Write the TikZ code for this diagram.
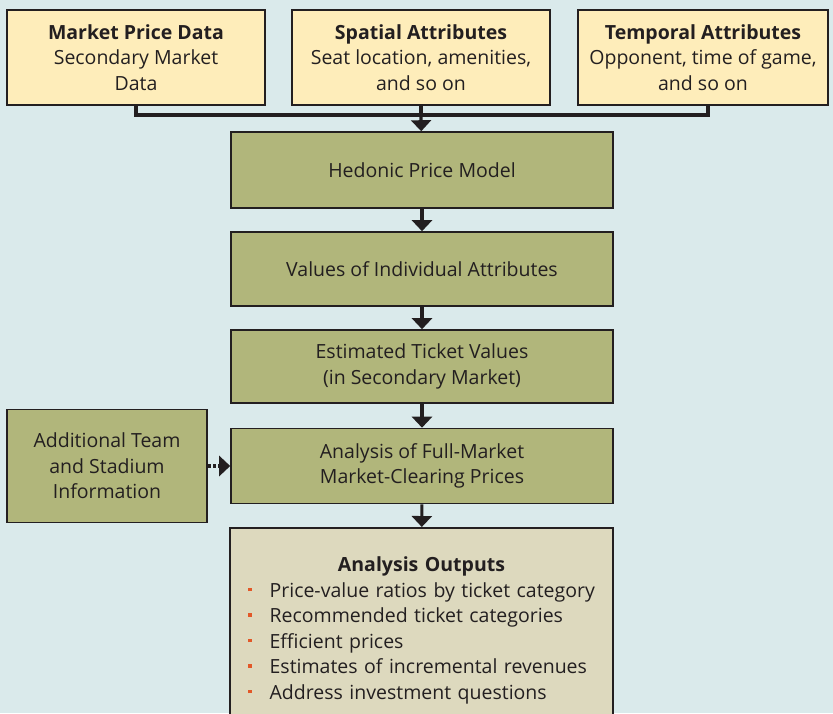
\documentclass[tikz,border=0pt]{standalone}
\usepackage{fontspec}
\setmainfont{Open Sans}
\usepackage{tikz}
\usetikzlibrary{arrows.meta}
\definecolor{cback}{RGB}{218,234,235}
\definecolor{cyellow}{RGB}{254,237,186}
\definecolor{colive}{RGB}{177,182,123}
\definecolor{ctan}{RGB}{221,217,190}
\definecolor{cbullet}{RGB}{226,88,40}
\definecolor{cline}{RGB}{35,31,32}
\newcommand{\bul}{\textcolor{cbullet}{\rule[6pt]{3.5pt}{3.5pt}}}

\begin{document}
\begin{tikzpicture}[x=1pt,y=-1pt,->,>={Triangle[width=20pt,length=11pt]},
  line width=3.2pt,draw=cline,
  box/.style={draw=cline,line width=1.6pt,inner sep=0pt,align=center,
    font=\fontsize{19.5}{25.5}\selectfont,text=cline},
  top node/.style={box,fill=cyellow,minimum height=95pt},
  main node/.style={box,fill=colive,minimum width=382pt},
  others node/.style={box,fill=colive,minimum width=200pt,minimum height=113pt},
  out node/.style={box,fill=ctan,anchor=north,text width=383pt,inner ysep=29pt}]
  \clip (0,0) rectangle (833,713);
  \fill[cback] (0,0) rectangle (833,713);

  \node[top node,minimum width=258pt] (1) at (136,57.5)
    {\bfseries Market Price Data\\Secondary Market\\Data};
  \node[top node,minimum width=258pt] (2) at (421,57.5)
    {\bfseries Spatial Attributes\\Seat location, amenities,\\and so on};
  \node[top node,minimum width=250pt] (3) at (703,57.5)
    {\bfseries Temporal Attributes\\Opponent, time of game,\\and so on};
  \coordinate (j) at (421,115);

  \node[main node,minimum height=76pt] (4) at (422,170) {Hedonic Price Model};
  \node[main node,minimum height=74pt] (5) at (422,269) {Values of Individual Attributes};
  \node[main node,minimum height=73pt] (6) at (422,366.5)
    {Estimated Ticket Values\\(in Secondary Market)};
  \node[main node,minimum height=75pt] (7) at (422,466)
    {Analysis of Full-Market\\Market-Clearing Prices};
  \node[others node] (8) at (107,466)
    {Additional Team\\and Stadium\\Information};
  \node[out node] (9) at (421.5,527) {{\bfseries Analysis Outputs}\\
    \begin{tabular}[t]{@{}l@{\hspace{18pt}}l@{}}
      \bul & Price-value ratios by ticket category\\
      \bul & Recommended ticket categories\\
      \bul & Efficient prices\\
      \bul & Estimates of incremental revenues\\
      \bul & Address investment questions
    \end{tabular}};

  \path[-] (1) edge[to path={|- (\tikztotarget)}] (j)
    (2) edge (j)
    (j) edge[to path={-| (\tikztotarget)}] ([xshift=5pt]3.south);
  \path
    (j) edge (4)
    (4) edge (5)
    (5) edge (6)
    (6) edge (7)
    (7) edge (9)
    (8) edge[dotted] (7);
\end{tikzpicture}
\end{document}
